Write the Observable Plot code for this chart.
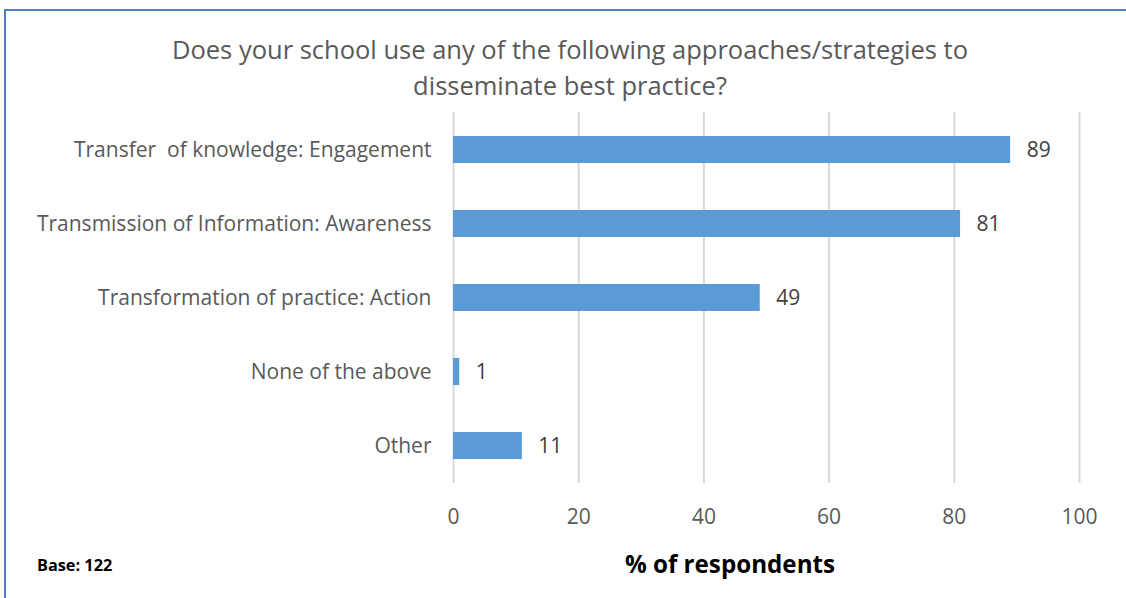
<!DOCTYPE html>
<html>
<head>
<meta charset="utf-8">
<script src="https://cdn.jsdelivr.net/npm/d3@7"></script>
<script src="https://cdn.jsdelivr.net/npm/@observablehq/plot@0.6"></script>
<style>
  html, body { margin: 0; padding: 0; background: #fff; }
  #frame { position: relative; width: 1126px; height: 598px; overflow: hidden; font-family: "Open Sans", Lato, sans-serif; }
  #bt { position: absolute; left: 5px; top: 9px; width: 1121px; height: 2px; background: #4F81BD; }
  #bl { position: absolute; left: 4px; top: 9px; width: 2px; height: 589px; background: #4F81BD; }
  #title { position: absolute; left: 0; width: 1140px; top: 31px; text-align: center; font-size: 25.5px; line-height: 36px; color: #595959; }
  #chart { position: absolute; left: 0; top: 0; }
  #base { position: absolute; left: 37px; top: 554px; font-size: 16.3px; font-weight: bold; color: #000; }
  #xlabel { position: absolute; left: 580px; width: 300px; top: 547px; text-align: center; font-size: 24.2px; font-weight: bold; color: #000; white-space: nowrap; }
</style>
</head>
<body>
<div id="frame">
  <div id="bt"></div>
  <div id="bl"></div>
  <div id="chart"></div>
  <div id="title">Does your school use any of the following approaches/strategies to<br>disseminate best practice?</div>
  <div id="base">Base: 122</div>
  <div id="xlabel">% of respondents</div>
</div>
<script>
const categories = [
  "Transfer  of knowledge: Engagement",
  "Transmission of Information: Awareness",
  "Transformation of practice: Action",
  "None of the above",
  "Other"
];
const values = [89, 81, 49, 1, 11];
const xTicks = [0, 20, 40, 60, 80, 100];

const data = categories.map((c, i) => ({category: c, value: values[i]}));

const chart = Plot.plot({
  width: 1126,
  height: 530,
  marginLeft: 453,
  marginRight: 47,
  marginTop: 112,
  marginBottom: 47,
  style: {fontFamily: "'Open Sans', Lato, sans-serif", fontSize: "21px", color: "#595959", background: "transparent"},
  x: {domain: [0, 100], ticks: xTicks, label: null},
  y: {domain: categories, label: null, paddingInner: 0.636, paddingOuter: 0.318},
  marks: [
    Plot.gridX(xTicks, {stroke: "#D9D9D9", strokeOpacity: 1, strokeWidth: 2}),
    Plot.barX(data, {y: "category", x: "value", fill: "#5B9BD5"}),
    Plot.text(data, {y: "category", x: "value", text: d => String(d.value), textAnchor: "start", dx: 16, fill: "#404040", fontSize: 21}),
    Plot.axisX(xTicks, {tickSize: 0, tickPadding: 26, fontSize: 21, fill: "#595959", label: null}),
    Plot.axisY({tickSize: 0, tickPadding: 22, fontSize: 21, fill: "#595959", label: null})
  ]
});
document.getElementById("chart").appendChild(chart);
</script>
</body>
</html>
